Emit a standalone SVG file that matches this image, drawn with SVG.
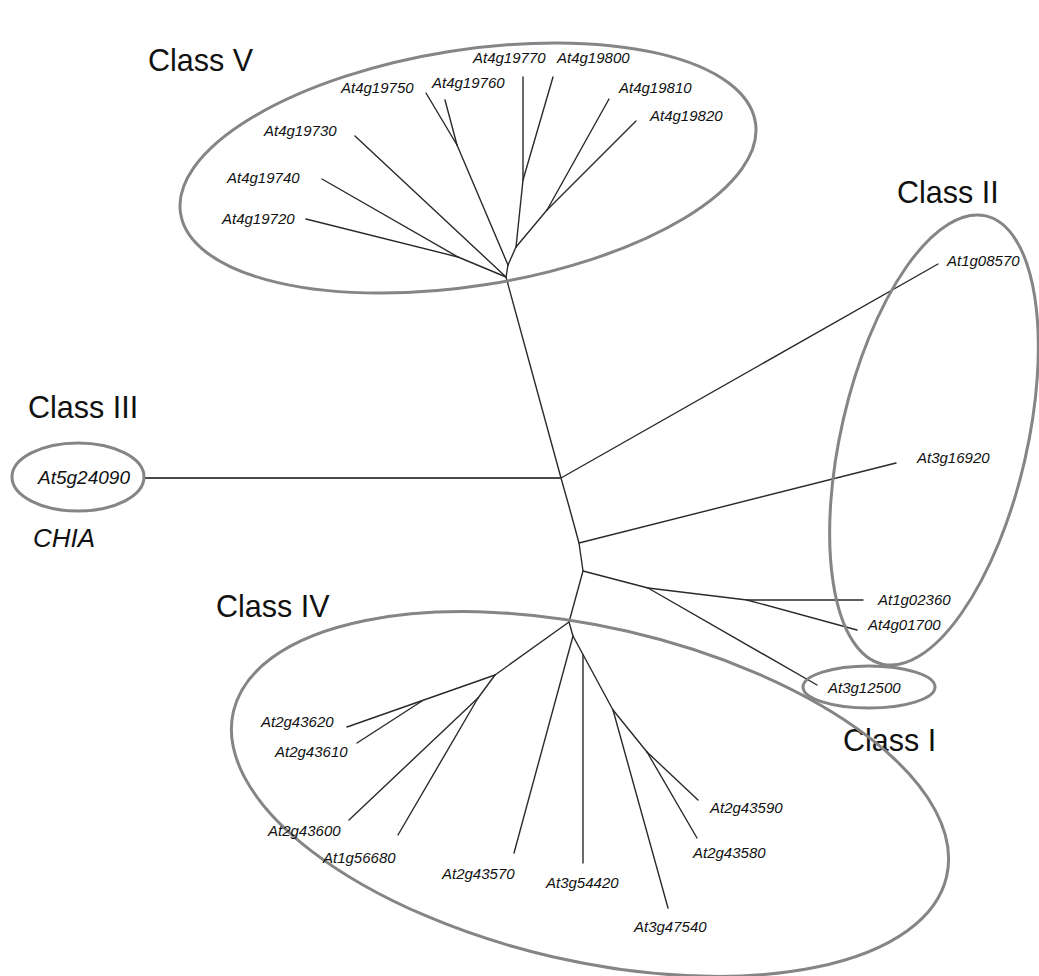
<svg xmlns="http://www.w3.org/2000/svg" width="1039" height="976" viewBox="0 0 1039 976">
<style>
.bg{fill:#ffffff}
.cls{fill:none;stroke:#858585;stroke-width:3}
.br{fill:none;stroke:#2a2a2a;stroke-width:1.4;stroke-linejoin:round;stroke-linecap:round}
.br3{fill:none;stroke:#4a4a4a;stroke-width:2.2}
.gene{font-family:"Liberation Sans",Arial,sans-serif;font-style:italic;font-size:15px;fill:#111}
.big{font-family:"Liberation Sans",Arial,sans-serif;font-size:30.5px;fill:#111}
.chia{font-family:"Liberation Sans",Arial,sans-serif;font-style:italic;font-size:26px;fill:#111}
</style>
<rect class="bg" x="0" y="0" width="1039" height="976"/>

<g id="connectors">
  <!-- trunk -->
  <polyline class="br" points="506,277 561,478 570,510 579,543 583,571 569,622"/>
  <!-- class III -->
  <line class="br3" x1="145" y1="478" x2="561" y2="478"/>
  <!-- class V -->
  <line class="br" x1="322" y1="179" x2="458" y2="257"/>
  <line class="br" x1="306" y1="219" x2="458" y2="257"/>
  <line class="br" x1="458" y1="257" x2="506" y2="277"/>
  <line class="br" x1="355" y1="136" x2="506" y2="277"/>
  <line class="br" x1="426" y1="93" x2="457" y2="145"/>
  <line class="br" x1="445" y1="100" x2="457" y2="145"/>
  <line class="br" x1="457" y1="145" x2="508" y2="265"/>
  <line class="br" x1="508" y1="265" x2="506" y2="277"/>
  <line class="br" x1="523" y1="77" x2="523" y2="180"/>
  <line class="br" x1="553" y1="77" x2="523" y2="180"/>
  <line class="br" x1="523" y1="180" x2="516" y2="247"/>
  <line class="br" x1="609" y1="99" x2="547" y2="210"/>
  <line class="br" x1="636" y1="121" x2="547" y2="210"/>
  <line class="br" x1="547" y1="210" x2="516" y2="247"/>
  <line class="br" x1="516" y1="247" x2="508" y2="265"/>
  <!-- class II / I -->
  <line class="br" x1="561" y1="478" x2="938" y2="264"/>
  <line class="br" x1="579" y1="543" x2="896" y2="463"/>
  <line class="br" x1="583" y1="571" x2="648" y2="588"/>
  <line class="br" x1="648" y1="588" x2="747" y2="600"/>
  <line class="br" x1="747" y1="600" x2="863" y2="600"/>
  <line class="br" x1="747" y1="600" x2="857" y2="630"/>
  <line class="br" x1="648" y1="588" x2="817" y2="685"/>
  <!-- class IV -->
  <line class="br" x1="569" y1="622" x2="495" y2="675"/>
  <line class="br" x1="495" y1="675" x2="347" y2="727"/>
  <line class="br" x1="422" y1="701" x2="357" y2="743"/>
  <line class="br" x1="495" y1="675" x2="478" y2="698"/>
  <line class="br" x1="478" y1="698" x2="349" y2="820"/>
  <line class="br" x1="478" y1="698" x2="398" y2="835"/>
  <line class="br" x1="569" y1="622" x2="573" y2="636"/>
  <line class="br" x1="573" y1="636" x2="514" y2="853"/>
  <line class="br" x1="573" y1="636" x2="613" y2="710"/>
  <line class="br" x1="583" y1="655" x2="583" y2="863"/>
  <line class="br" x1="613" y1="710" x2="668" y2="908"/>
  <line class="br" x1="613" y1="710" x2="647" y2="752"/>
  <line class="br" x1="647" y1="752" x2="698" y2="800"/>
  <line class="br" x1="647" y1="752" x2="697" y2="838"/>
</g>

<g id="class-V">
  <ellipse class="cls" cx="468" cy="168" rx="291" ry="118" transform="rotate(-9 468 168)"/>
  <text class="big" x="148" y="71">Class V</text>
</g>
<g id="class-II">
  <ellipse class="cls" cx="934" cy="440" rx="93" ry="230" transform="rotate(13 934 440)"/>
  <text class="big" x="897" y="203">Class II</text>
</g>
<g id="class-I">
  <ellipse class="cls" cx="869" cy="687" rx="66" ry="21"/>
  <text class="big" x="843" y="751">Class I</text>
</g>
<g id="class-III">
  <ellipse class="cls" cx="78" cy="477" rx="66" ry="34"/>
  <text class="big" x="28" y="418">Class III</text>
  <text class="chia" x="33" y="547">CHIA</text>
</g>
<g id="class-IV">
  <ellipse class="cls" cx="590" cy="794" rx="366" ry="167" transform="rotate(13 590 794)"/>
  <text class="big" x="216" y="617">Class IV</text>
</g>

<g id="At5g24090"><text class="gene" x="84" y="484" text-anchor="middle" style="font-size:19px">At5g24090</text></g>
<g id="At4g19730"><text class="gene" x="264" y="136">At4g19730</text></g>
<g id="At4g19740"><text class="gene" x="227" y="183">At4g19740</text></g>
<g id="At4g19720"><text class="gene" x="222" y="224">At4g19720</text></g>
<g id="At4g19750"><text class="gene" x="341" y="93">At4g19750</text></g>
<g id="At4g19760"><text class="gene" x="432" y="88">At4g19760</text></g>
<g id="At4g19770"><text class="gene" x="473" y="63">At4g19770</text></g>
<g id="At4g19800"><text class="gene" x="557" y="63">At4g19800</text></g>
<g id="At4g19810"><text class="gene" x="619" y="93">At4g19810</text></g>
<g id="At4g19820"><text class="gene" x="650" y="121">At4g19820</text></g>
<g id="At1g08570"><text class="gene" x="947" y="266">At1g08570</text></g>
<g id="At3g16920"><text class="gene" x="917" y="463">At3g16920</text></g>
<g id="At1g02360"><text class="gene" x="878" y="605">At1g02360</text></g>
<g id="At4g01700"><text class="gene" x="868" y="630">At4g01700</text></g>
<g id="At3g12500"><text class="gene" x="828" y="693">At3g12500</text></g>
<g id="At2g43620"><text class="gene" x="261" y="727">At2g43620</text></g>
<g id="At2g43610"><text class="gene" x="275" y="757">At2g43610</text></g>
<g id="At2g43600"><text class="gene" x="268" y="836">At2g43600</text></g>
<g id="At1g56680"><text class="gene" x="323" y="863">At1g56680</text></g>
<g id="At2g43570"><text class="gene" x="442" y="879">At2g43570</text></g>
<g id="At3g54420"><text class="gene" x="546" y="888">At3g54420</text></g>
<g id="At3g47540"><text class="gene" x="634" y="932">At3g47540</text></g>
<g id="At2g43590"><text class="gene" x="710" y="813">At2g43590</text></g>
<g id="At2g43580"><text class="gene" x="693" y="858">At2g43580</text></g>
</svg>
